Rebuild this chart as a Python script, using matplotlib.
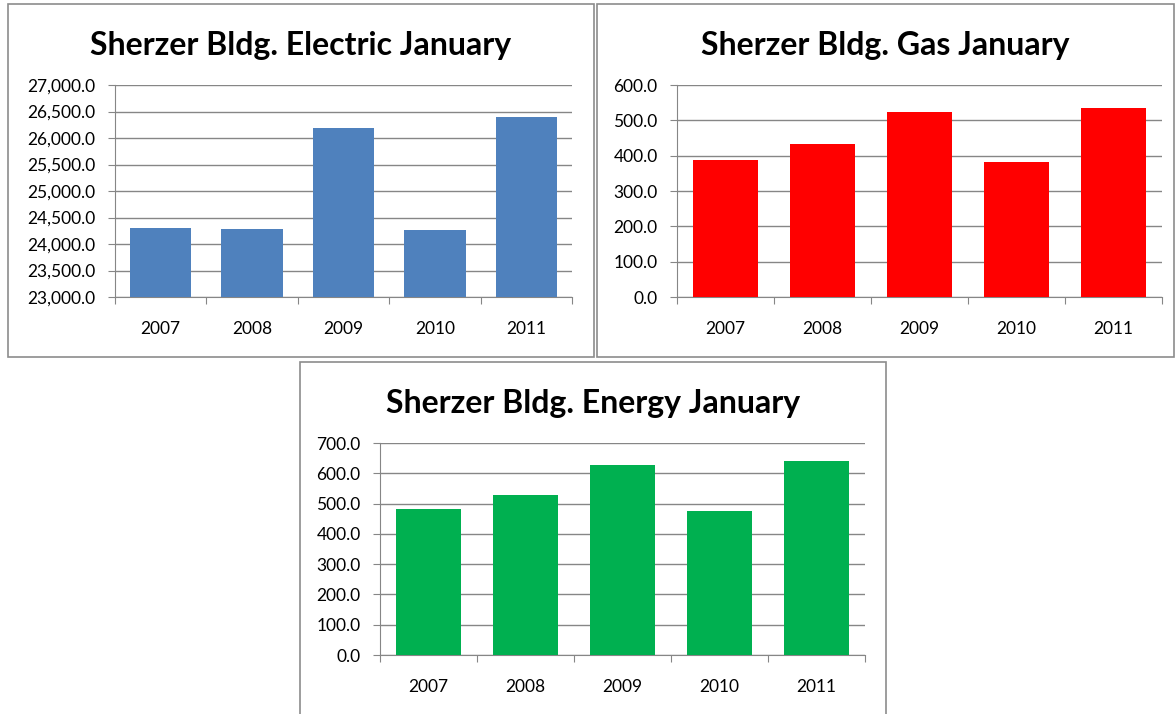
import matplotlib
import numpy as np

matplotlib.use("Agg")
import matplotlib.pyplot as plt
from matplotlib.patches import Rectangle
from matplotlib.ticker import FuncFormatter, MultipleLocator

years = ["2007", "2008", "2009", "2010", "2011"]
electric = [24300, 24290, 26190, 24270, 26390]
gas = [388, 432, 524, 383, 534]
energy = [483, 527, 628, 477, 639]

W, H = 1175, 714
plt.rcParams["font.family"] = ["Lato", "DejaVu Sans"]

fig = plt.figure(figsize=(W / 100, H / 100), dpi=100)


def frac(x0, y0, x1, y1):
    # pixel box (top-left origin) -> figure fraction [left, bottom, width, height]
    return [x0 / W, 1 - y1 / H, (x1 - x0) / W, (y1 - y0) / H]


def panel(box, plot_box, title, values, color, ylim, step, title_y):
    l, b, w, h = frac(*box)
    fig.patches.append(Rectangle((l, b), w, h, transform=fig.transFigure,
                                 fill=False, edgecolor="#8c8c8c", linewidth=1.2))
    ax = fig.add_axes(frac(*plot_box))
    x = np.arange(len(years))
    ax.bar(x, values, 0.67, color=color, zorder=3)
    ax.set_xlim(-0.5, len(years) - 0.5)
    ax.set_ylim(*ylim)
    ax.yaxis.set_major_locator(MultipleLocator(step))
    ax.yaxis.set_major_formatter(FuncFormatter(lambda v, p: f"{v:,.1f}"))
    ax.grid(axis="y", color="#868686", linewidth=1, zorder=0)
    ax.set_xticks(np.arange(-0.5, len(years)), [""] * (len(years) + 1))
    ax.set_xticks(x, years, minor=True)
    ax.tick_params(axis="x", which="major", direction="out", length=5, color="#868686")
    ax.tick_params(axis="x", which="minor", length=0, pad=17, labelsize=12.5)
    ax.tick_params(axis="y", direction="out", length=5, color="#868686",
                   labelsize=12.5, pad=9)
    for s in ("top", "right"):
        ax.spines[s].set_visible(False)
    for s in ("left", "bottom"):
        ax.spines[s].set_color("#868686")
    cx = (box[0] + box[2]) / 2 / W
    fig.text(cx, 1 - title_y / H, title, ha="center", va="baseline",
             fontsize=23, fontweight="bold")
    return ax


panel((8, 4, 594, 357), (115, 85, 572, 297), "Sherzer Bldg. Electric January",
      electric, "#4F81BD", (23000, 27000), 500, 55)
panel((597, 4, 1174, 357), (677, 85, 1162, 297), "Sherzer Bldg. Gas January",
      gas, "#FF0000", (0, 600), 100, 55)
panel((300, 362, 886, 716), (380, 443, 865, 655), "Sherzer Bldg. Energy January",
      energy, "#00B050", (0, 700), 100, 413)

fig.savefig("out.png", dpi=100)
